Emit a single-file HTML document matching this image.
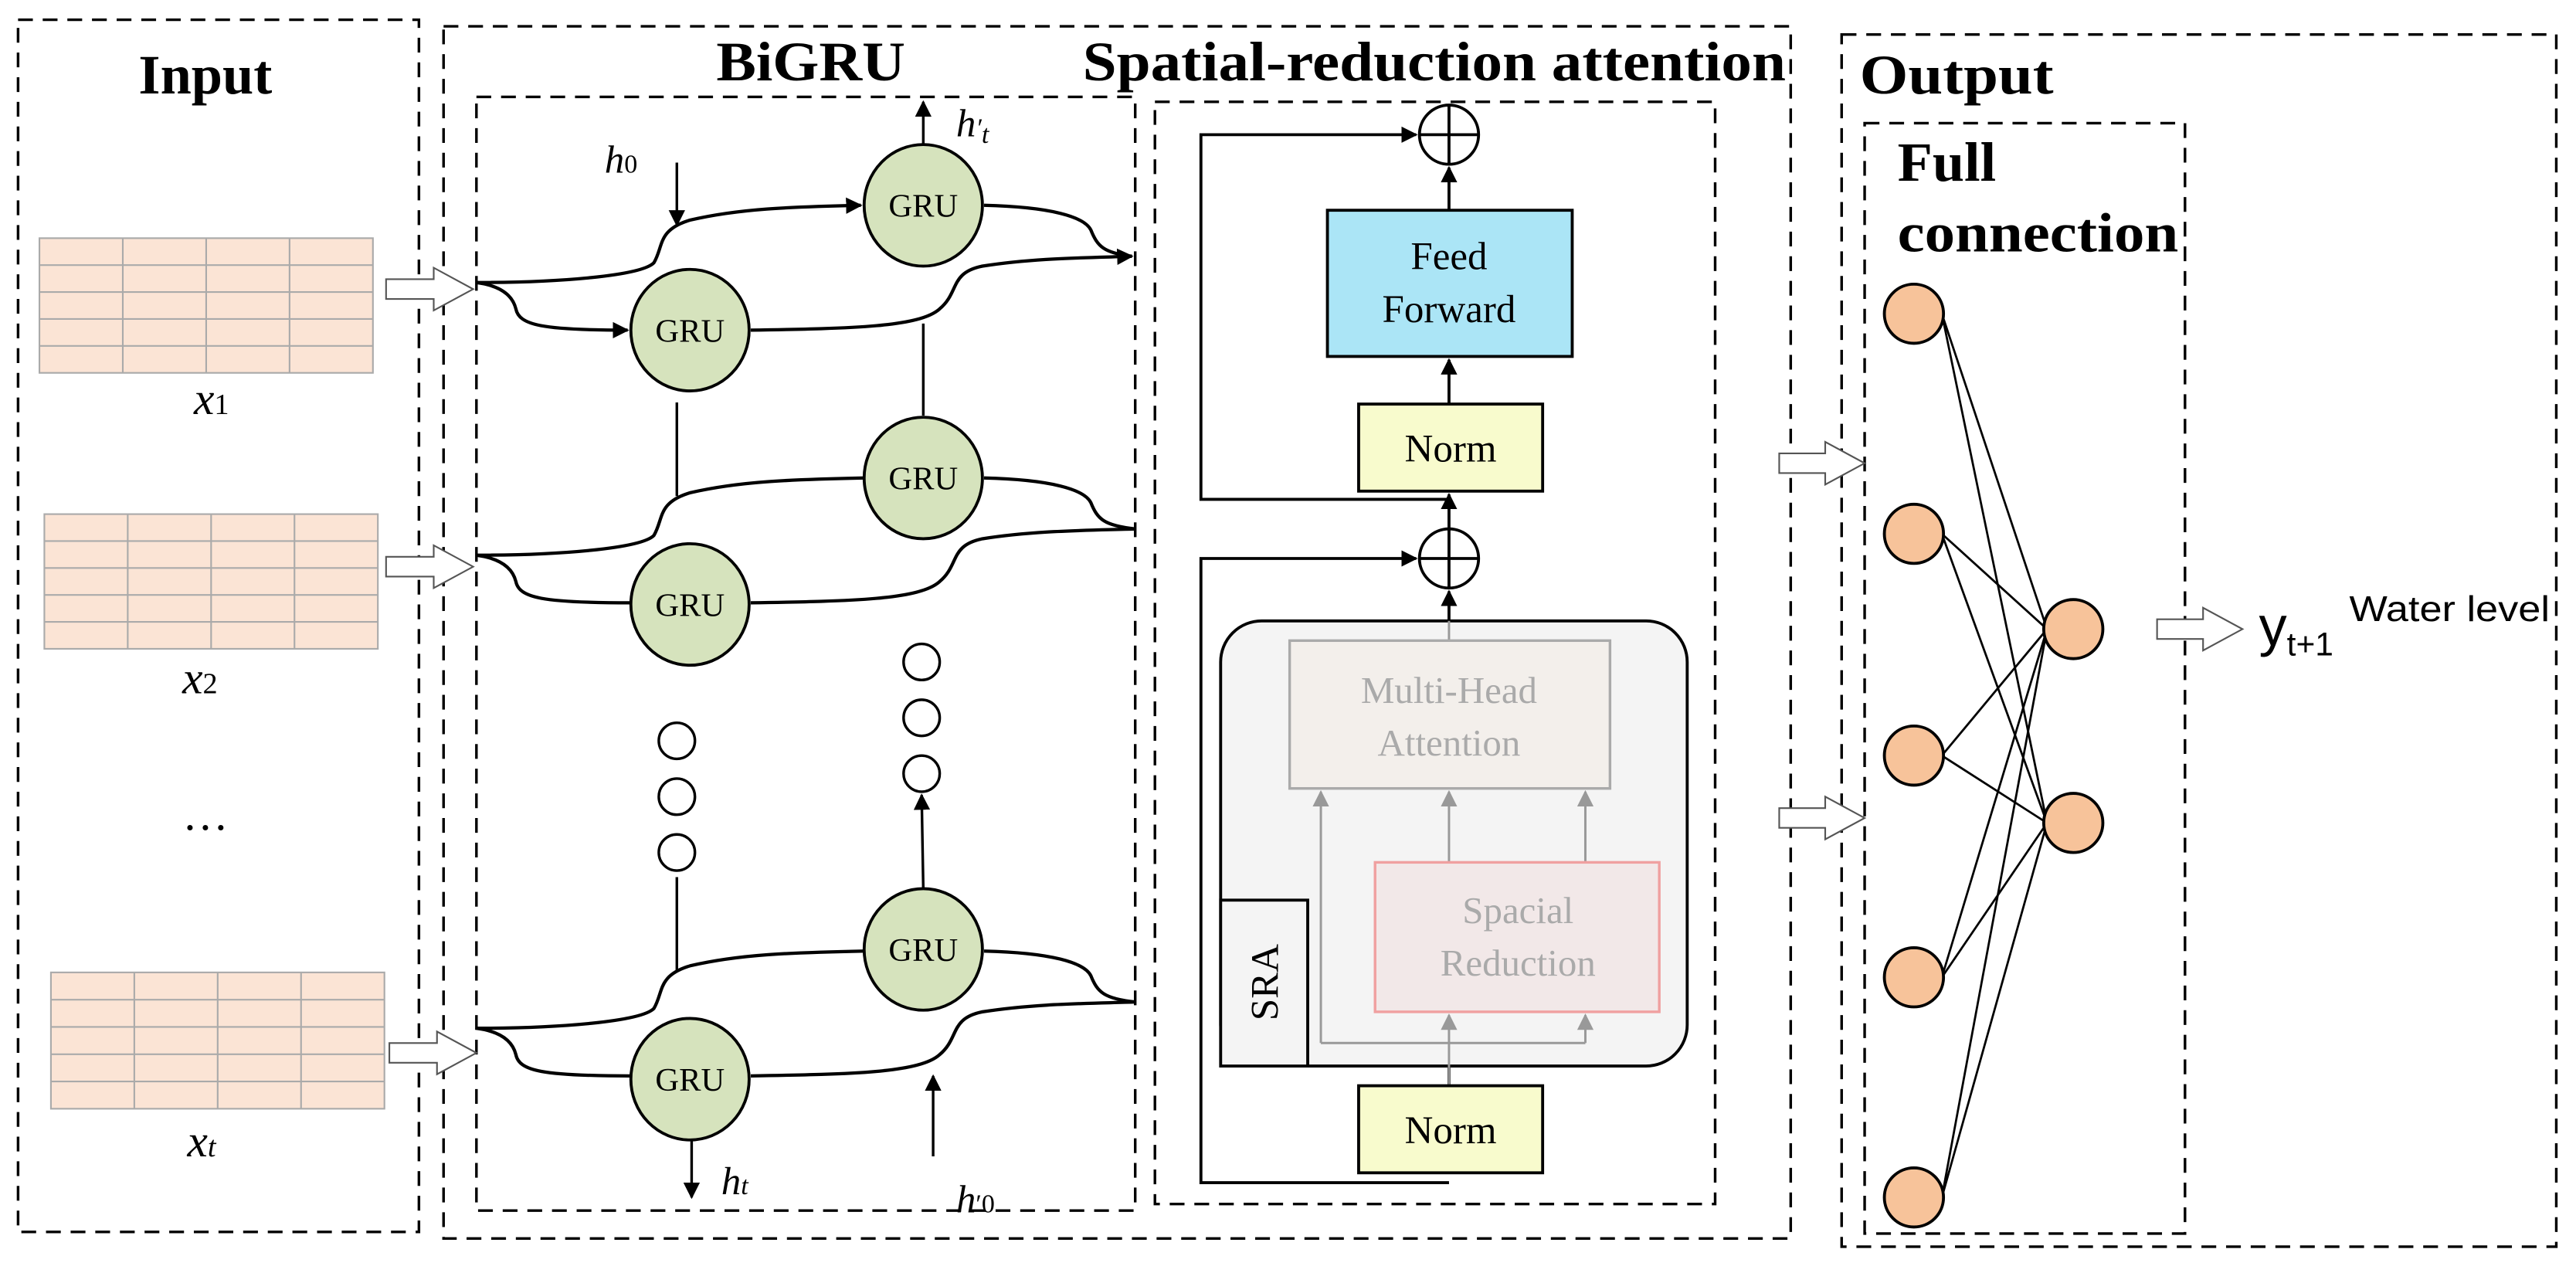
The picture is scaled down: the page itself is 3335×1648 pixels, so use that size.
<!DOCTYPE html>
<html><head><meta charset="utf-8"><style>html,body{margin:0;padding:0;background:#fff}svg{display:block}</style></head>
<body>
<svg width="3335" height="1648" viewBox="0 0 1568 775" preserveAspectRatio="none" xmlns="http://www.w3.org/2000/svg">
<defs>
<marker id="ah" markerWidth="10" markerHeight="10" refX="9" refY="5" orient="auto" markerUnits="userSpaceOnUse" viewBox="0 0 10 10"><path d="M0,0 L10,5 L0,10 z" fill="#000"/></marker>
<marker id="ag" markerWidth="10" markerHeight="10" refX="9" refY="5" orient="auto" markerUnits="userSpaceOnUse" viewBox="0 0 10 10"><path d="M0,0 L10,5 L0,10 z" fill="#999"/></marker>
</defs>
<g fill="none" stroke="#000" stroke-width="1.6" stroke-dasharray="9,6">
<rect x="11" y="12" width="244" height="738"/>
<rect x="270" y="16" width="820" height="738"/>
<rect x="290" y="59" width="401" height="678"/>
<rect x="703" y="62" width="341" height="671"/>
<rect x="1121" y="21" width="435" height="738"/>
<rect x="1135" y="75" width="195" height="676"/>
</g>
<g font-family="Liberation Serif, serif" font-weight="bold" font-size="34">
<text x="125" y="57" text-anchor="middle">Input</text>
<text x="436" y="49" textLength="115" lengthAdjust="spacingAndGlyphs">BiGRU</text>
<text x="659" y="49" textLength="428" lengthAdjust="spacingAndGlyphs">Spatial-reduction attention</text>
<text x="1132" y="57" textLength="118" lengthAdjust="spacingAndGlyphs">Output</text>
<text x="1155" y="110" textLength="60" lengthAdjust="spacingAndGlyphs">Full</text>
<text x="1155" y="153" textLength="171" lengthAdjust="spacingAndGlyphs">connection</text>
</g>
<!-- tables -->
<g stroke="#aaa" stroke-width="1" fill="#fbe4d5">
<g transform="translate(24,145)">
<rect width="203" height="82"/>
<path d="M50.75,0V82M101.5,0V82M152.25,0V82M0,16.4H203M0,32.8H203M0,49.2H203M0,65.6H203" fill="none"/>
</g>
<g transform="translate(27,313)">
<rect width="203" height="82"/>
<path d="M50.75,0V82M101.5,0V82M152.25,0V82M0,16.4H203M0,32.8H203M0,49.2H203M0,65.6H203" fill="none"/>
</g>
<g transform="translate(31,592)">
<rect width="203" height="83"/>
<path d="M50.75,0V83M101.5,0V83M152.25,0V83M0,16.6H203M0,33.2H203M0,49.8H203M0,66.4H203" fill="none"/>
</g>
</g>
<g font-family="Liberation Serif, serif" font-style="italic" font-size="28">
<text x="118" y="252">x<tspan font-style="normal" font-size="18">1</tspan></text>
<text x="111" y="422">x<tspan font-style="normal" font-size="18">2</tspan></text>
<text x="114" y="704">x<tspan font-size="18">t</tspan></text>
</g>
<text x="125" y="505" font-family="Liberation Serif, serif" font-size="28" text-anchor="middle">…</text>
<!-- hollow arrows -->
<g fill="#fff" stroke="#555" stroke-width="1">
<polygon points="235,170 264,170 264,163 288,176 264,189 264,182 235,182"/>
<polygon points="235,339 264,339 264,332 288,345 264,358 264,351 235,351"/>
<polygon points="237,635 266,635 266,628 290,641 266,654 266,647 237,647"/>
<polygon points="1083,276 1111,276 1111,269 1135,282 1111,295 1111,288 1083,288"/>
<polygon points="1083,492 1111,492 1111,485 1135,498 1111,511 1111,504 1083,504"/>
<polygon points="1313,377 1341,377 1341,370 1365,383 1341,396 1341,389 1313,389"/>
</g>
<!-- BiGRU curves -->
<g fill="none" stroke="#000" stroke-width="2">
<g>
<path d="M290,172 C340,172 390,168 398,160 C404,150 400,140 420,134 C450,127 480,126 524,125" marker-end="url(#ah)"/>
<path d="M290,172 C305,174 312,180 314,188 C316,198 330,201 382,201" marker-end="url(#ah)"/>
<path d="M457,201 C520,200 560,199 572,188 C584,178 578,166 598,162 C630,157 660,157 689,156" marker-end="url(#ah)"/>
<path d="M599,125 C640,126 660,132 664,140 C668,150 672,154 689,156"/>
</g>
<g transform="translate(0,166)">
<path d="M290,172 C340,172 390,168 398,160 C404,150 400,140 420,134 C450,127 480,126 526,125"/>
<path d="M290,172 C305,174 312,180 314,188 C316,198 330,201 384,201"/>
<path d="M457,201 C520,200 560,199 572,188 C584,178 578,166 598,162 C630,157 660,157 691,156"/>
<path d="M599,125 C640,126 660,132 664,140 C668,150 672,154 691,156"/>
</g>
<g transform="translate(0,454)">
<path d="M290,172 C340,172 390,168 398,160 C404,150 400,140 420,134 C450,127 480,126 526,125"/>
<path d="M290,172 C305,174 312,180 314,188 C316,198 330,201 384,201"/>
<path d="M457,201 C520,200 560,199 572,188 C584,178 578,166 598,162 C630,157 660,157 691,156"/>
<path d="M599,125 C640,126 660,132 664,140 C668,150 672,154 691,156"/>
</g>
</g>
<g stroke="#000" stroke-width="1.6" fill="none">
<line x1="412" y1="245" x2="412" y2="302"/>
<line x1="412" y1="534" x2="412" y2="591"/>
<line x1="562" y1="197" x2="562" y2="253"/>
<line x1="562" y1="541" x2="561" y2="484" marker-end="url(#ah)"/>
<line x1="412" y1="99" x2="412" y2="137" marker-end="url(#ah)"/>
<line x1="562" y1="89" x2="562" y2="62" marker-end="url(#ah)"/>
<line x1="421" y1="694" x2="421" y2="729" marker-end="url(#ah)"/>
<line x1="568" y1="704" x2="568" y2="655" marker-end="url(#ah)"/>
<circle cx="412" cy="451" r="11"/><circle cx="412" cy="485" r="11"/><circle cx="412" cy="519" r="11"/>
<circle cx="561" cy="403" r="11"/><circle cx="561" cy="437" r="11"/><circle cx="561" cy="471" r="11"/>
</g>
<g fill="#d6e3bd" stroke="#000" stroke-width="1.8">
<ellipse cx="562" cy="125" rx="36" ry="37"/>
<ellipse cx="420" cy="201" rx="36" ry="37"/>
<ellipse cx="562" cy="291" rx="36" ry="37"/>
<ellipse cx="420" cy="368" rx="36" ry="37"/>
<ellipse cx="562" cy="578" rx="36" ry="37"/>
<ellipse cx="420" cy="657" rx="36" ry="37"/>
</g>
<g font-family="Liberation Serif, serif" font-size="20" text-anchor="middle">
<text x="562" y="132">GRU</text><text x="420" y="208">GRU</text>
<text x="562" y="298">GRU</text><text x="420" y="375">GRU</text>
<text x="562" y="585">GRU</text><text x="420" y="664">GRU</text>
</g>
<g font-family="Liberation Serif, serif" font-style="italic" font-size="24">
<text x="368" y="105">h<tspan font-style="normal" font-size="16">0</tspan></text>
<text x="582" y="83">h<tspan font-size="16">′</tspan><tspan font-size="16" dy="4">t</tspan></text>
<text x="439" y="727">h<tspan font-size="16">t</tspan></text>
<text x="582" y="738">h<tspan font-style="normal" font-size="16">′0</tspan></text>
</g>
<!-- SRA section -->
<g stroke="#000" stroke-width="1.8" fill="none">
<polyline points="882,304 731,304 731,82 862,82" marker-end="url(#ah)"/>
<polyline points="882,720 731,720 731,340 862,340" marker-end="url(#ah)"/>
<line x1="882" y1="128" x2="882" y2="102" marker-end="url(#ah)"/>
<line x1="882" y1="246" x2="882" y2="219" marker-end="url(#ah)"/>
<line x1="882" y1="322" x2="882" y2="301" marker-end="url(#ah)"/>
<line x1="882" y1="378" x2="882" y2="360" marker-end="url(#ah)"/>
<line x1="882" y1="649" x2="882" y2="661"/>
</g>
<rect x="743" y="378" width="284" height="271" rx="25" fill="#f4f4f4" stroke="#000" stroke-width="1.8"/>
<rect x="743" y="548" width="53" height="101" fill="#f4f4f4" stroke="#000" stroke-width="1.8"/>
<text transform="translate(778,598) rotate(-90)" font-family="Liberation Serif, serif" font-size="24" text-anchor="middle">SRA</text>
<g stroke="#999" stroke-width="1.4" fill="none">
<line x1="882" y1="390" x2="882" y2="378"/>
<polyline points="804,635 804,482" marker-end="url(#ag)"/>
<line x1="882" y1="525" x2="882" y2="482" marker-end="url(#ag)"/>
<line x1="965" y1="525" x2="965" y2="482" marker-end="url(#ag)"/>
<line x1="804" y1="635" x2="965" y2="635"/>
<line x1="882" y1="661" x2="882" y2="618" marker-end="url(#ag)"/>
<line x1="965" y1="635" x2="965" y2="618" marker-end="url(#ag)"/>
</g>
<rect x="785" y="390" width="195" height="90" fill="#f3efeb" stroke="#aaa" stroke-width="1.6"/>
<rect x="837" y="525" width="173" height="91" fill="#f2e8e8" stroke="#f0a0a0" stroke-width="1.6"/>
<g font-family="Liberation Serif, serif" font-size="23" fill="#aaa" text-anchor="middle">
<text x="882" y="428">Multi-Head</text><text x="882" y="460">Attention</text>
<text x="924" y="562">Spacial</text><text x="924" y="594">Reduction</text>
</g>
<rect x="808" y="128" width="149" height="89" fill="#abe5f6" stroke="#000" stroke-width="1.8"/>
<rect x="827" y="246" width="112" height="53" fill="#f8fbcd" stroke="#000" stroke-width="1.8"/>
<rect x="827" y="661" width="112" height="53" fill="#f8fbcd" stroke="#000" stroke-width="1.8"/>
<g font-family="Liberation Serif, serif" font-size="24" text-anchor="middle">
<text x="882" y="164">Feed</text><text x="882" y="196">Forward</text>
<text x="883" y="281">Norm</text><text x="883" y="696">Norm</text>
</g>
<g stroke="#000" stroke-width="1.8" fill="#fff">
<circle cx="882" cy="82" r="18"/><line x1="864" y1="82" x2="900" y2="82"/><line x1="882" y1="64" x2="882" y2="100"/>
<circle cx="882" cy="340" r="18"/><line x1="864" y1="340" x2="900" y2="340"/><line x1="882" y1="322" x2="882" y2="358"/>
</g>
<!-- full connection -->
<g stroke="#000" stroke-width="1.3">
<line x1="1182" y1="191" x2="1246" y2="383"/><line x1="1182" y1="191" x2="1246" y2="501"/>
<line x1="1182" y1="325" x2="1246" y2="383"/><line x1="1182" y1="325" x2="1246" y2="501"/>
<line x1="1182" y1="460" x2="1246" y2="383"/><line x1="1182" y1="460" x2="1246" y2="501"/>
<line x1="1182" y1="595" x2="1246" y2="383"/><line x1="1182" y1="595" x2="1246" y2="501"/>
<line x1="1182" y1="729" x2="1246" y2="383"/><line x1="1182" y1="729" x2="1246" y2="501"/>
</g>
<g fill="#f7c39a" stroke="#000" stroke-width="1.8">
<circle cx="1165" cy="191" r="18"/><circle cx="1165" cy="325" r="18"/><circle cx="1165" cy="460" r="18"/>
<circle cx="1165" cy="595" r="18"/><circle cx="1165" cy="729" r="18"/>
<circle cx="1262" cy="383" r="18"/><circle cx="1262" cy="501" r="18"/>
</g>
<g font-family="Liberation Sans, sans-serif">
<text x="1375" y="393" font-size="34">y<tspan font-size="20" dy="6">t+1</tspan></text>
<text x="1430" y="378" font-size="22" textLength="122" lengthAdjust="spacingAndGlyphs">Water level</text>
</g>
</svg>
</body></html>
